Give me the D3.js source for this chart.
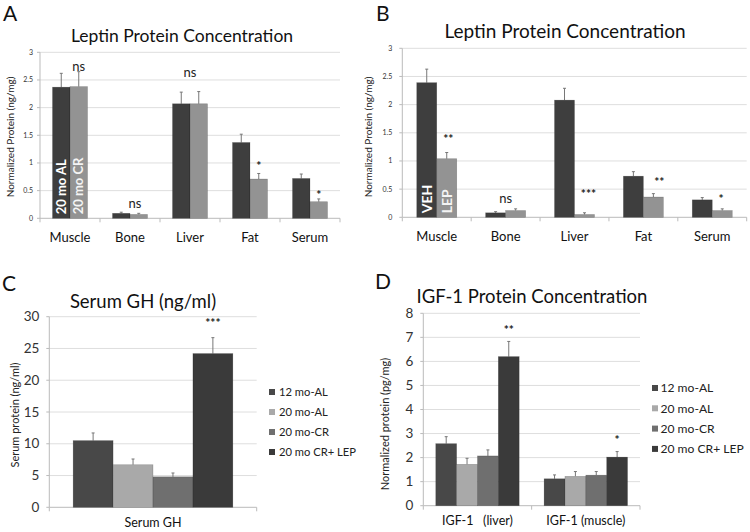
<!DOCTYPE html>
<html><head><meta charset="utf-8">
<script src="https://cdn.jsdelivr.net/npm/d3@7"></script>
<style>body{margin:0;background:#fff}svg{display:block}text{font-family:Lato,"Open Sans",sans-serif;white-space:pre}</style>
</head><body>
<svg id="c" width="750" height="532"></svg>
<script>
// ---------- DATA ----------
const tissues = ["Muscle","Bone","Liver","Fat","Serum"];
const aSeries = ["20 mo AL","20 mo CR"];
const aAL = [2.37,0.09,2.07,1.37,0.72];
const aALerr = [0.25,0.02,0.21,0.15,0.08];
const aCR = [2.38,0.07,2.07,0.71,0.30];
const aCRerr = [0.27,0.02,0.22,0.10,0.05];
const aSig = ["ns","ns","ns","*","*"];
const aSigY = [2.74,0.27,2.63,0.95,0.42];
const aSigPos = [0.75,0.64,0.5,0.75,0.75];   // position across the bar pair (0..1)

const bSeries = ["VEH","LEP"];
const bVEH = [2.39,0.08,2.08,0.73,0.31];
const bVEHerr = [0.24,0.02,0.21,0.08,0.04];
const bLEP = [1.04,0.12,0.05,0.36,0.12];
const bLEPerr = [0.11,0.03,0.03,0.06,0.03];
const bSig = ["**","ns","***","**","*"];
const bSigY = [1.39,0.33,0.41,0.63,0.33];
const bSigPos = [0.79,0.5,0.85,0.9,0.72];

const leptinTicks = [0,0.5,1,1.5,2,2.5,3];

const groups4 = ["12 mo-AL","20 mo-AL","20 mo-CR","20 mo CR+ LEP"];
const cCats = ["Serum GH"];
const cVals = [[10.5,6.7,4.8,24.2]];
const cErr = [[1.2,0.9,0.6,2.5]];
const cSig = [["","","","***"]];
const cSigY = [29.0];
const cTicks = [0,5,10,15,20,25,30];

const dCats = ["IGF-1   (liver)","IGF-1 (muscle)"];
const dVals = [[2.58,1.72,2.07,6.2],[1.12,1.22,1.27,2.02]];
const dErr = [[0.29,0.25,0.25,0.63],[0.16,0.20,0.15,0.23]];
const dSig = [["","","","**"],["","","","*"]];
const dSigY = [7.3,2.73];
const dTicks = [0,1,2,3,4,5,6,7,8];

const colors2 = ["#3e3e3e","#939393"];
const colors4 = ["#484848","#a9a9a9","#6f6f6f","#3a3a3a"];

// ---------- DRAW ----------
const svg = d3.select("#c");
const grid = "#dedede";

function panelLetter(t,x,y){
  svg.append("text").attr("x",x).attr("y",y).attr("font-size",21).attr("font-family","Liberation Sans, Arial, sans-serif").attr("fill","#111").text(t);
}
function title(t,x,y,fs){
  svg.append("text").attr("x",x).attr("y",y).attr("text-anchor","middle").attr("font-size",fs).attr("fill","#111").text(t);
}
function yLabel(t,x,y,fs){
  svg.append("text").attr("transform",`translate(${x},${y}) rotate(-90)`).attr("text-anchor","middle").attr("dy","0.35em").attr("font-size",fs).attr("fill","#222").text(t);
}

function drawAxes(g,x,y,ticks,tickFs,x0,x1,cats,catFs,catY,tickGap){
  g.selectAll(".gl").data(ticks.slice(1)).join("line")
    .attr("x1",x0).attr("x2",x1).attr("y1",d=>y(d)).attr("y2",d=>y(d)).attr("stroke",grid).attr("stroke-width",1);
  g.append("line").attr("x1",x0).attr("x2",x0).attr("y1",y(0)).attr("y2",y(ticks[ticks.length-1])).attr("stroke","#bbb");
  g.selectAll(".yt").data(ticks).join("line").attr("x1",x0-3).attr("x2",x0).attr("y1",d=>y(d)).attr("y2",d=>y(d)).attr("stroke","#bbb");
  g.selectAll(".ytl").data(ticks).join("text").attr("x",x0-tickGap).attr("y",d=>y(d)).attr("dy","0.35em")
    .attr("text-anchor","end").attr("font-size",tickFs).attr("fill","#333").text(d=>d);
  g.append("line").attr("x1",x0).attr("x2",x1).attr("y1",y(0)).attr("y2",y(0)).attr("stroke","#bbb");
  const bounds = cats.map(c=>x(c)).concat([x(cats[cats.length-1])+x.bandwidth()]);
  g.selectAll(".xt").data(bounds).join("line").attr("x1",d=>d).attr("x2",d=>d).attr("y1",y(0)).attr("y2",y(0)+4).attr("stroke","#bbb");
  g.selectAll(".xl").data(cats).join("text").attr("x",d=>x(d)+x.bandwidth()/2).attr("y",catY)
    .attr("text-anchor","middle").attr("font-size",catFs).attr("fill","#111").text(d=>d);
}

function bars(g,data,y,capW){
  g.selectAll(".eb").data(data).join("line").attr("x1",d=>d.x+d.w/2).attr("x2",d=>d.x+d.w/2)
    .attr("y1",d=>y(d.v)).attr("y2",d=>y(d.v+d.e)).attr("stroke","#777").attr("stroke-width",1);
  g.selectAll(".ec").data(data).join("line").attr("x1",d=>d.x+d.w/2-capW).attr("x2",d=>d.x+d.w/2+capW)
    .attr("y1",d=>y(d.v+d.e)).attr("y2",d=>y(d.v+d.e)).attr("stroke","#777").attr("stroke-width",1);
  g.selectAll(".bar").data(data).join("rect").attr("x",d=>d.x).attr("width",d=>d.w)
    .attr("y",d=>y(d.v)).attr("height",d=>y(0)-y(d.v)).attr("fill",d=>d.c).attr("stroke","rgba(0,0,0,0.25)").attr("stroke-width",0.6);
}

// ----- Panel A & B -----
function leptinPanel(o){
  const g = svg.append("g");
  const x = d3.scaleBand().domain(tissues).range([o.x0,o.x1]).padding(0);
  const y = d3.scaleLinear().domain([0,3]).range([o.yb,o.yt]);
  drawAxes(g,x,y,leptinTicks,7,o.x0,o.x1,tissues,13,o.catY,o.tickGap);
  const sub = d3.scaleBand().domain(o.series).range([0,o.pairW]);
  const data=[];
  tissues.forEach((t,i)=>{
    const off = x(t)+(x.bandwidth()-o.pairW)/2;
    data.push({x:off+sub(o.series[0]),w:sub.bandwidth(),v:o.v1[i],e:o.e1[i],c:colors2[0]});
    data.push({x:off+sub(o.series[1]),w:sub.bandwidth(),v:o.v2[i],e:o.e2[i],c:colors2[1]});
  });
  bars(g,data,y,1.5);
  o.series.forEach((s,k)=>{
    const cx = x(tissues[0])+(x.bandwidth()-o.pairW)/2+sub(s)+sub.bandwidth()/2;
    g.append("text").attr("transform",`translate(${cx},${y(0)-4}) rotate(-90)`).attr("dy","0.36em")
      .attr("font-size",o.inFs).attr("font-weight","bold").attr("font-family","Liberation Sans, Arial, sans-serif")
      .attr("fill",k===0?"#fff":"#f4f4f4").text(s);
  });
  tissues.forEach((t,i)=>{
    const cx = x(t)+(x.bandwidth()-o.pairW)/2+o.pairW*o.sigPos[i];
    const isNs = o.sig[i]==="ns";
    g.append("text").attr("x",cx).attr("y",y(o.sigY[i])).attr("dy","0.35em").attr("text-anchor","middle")
      .attr("font-size",isNs?13:12).attr("font-weight",isNs?"normal":"bold").attr("fill","#222").text(o.sig[i]);
  });
}
leptinPanel({x0:40,x1:340,yb:218.3,yt:52.3,pairW:35,series:aSeries,v1:aAL,e1:aALerr,v2:aCR,e2:aCRerr,
  sig:aSig,sigY:aSigY,sigPos:aSigPos,catY:242,inFs:13,tickGap:7});
leptinPanel({x0:402.3,x1:746.7,yb:217.3,yt:48.3,pairW:40,series:bSeries,v1:bVEH,e1:bVEHerr,v2:bLEP,e2:bLEPerr,
  sig:bSig,sigY:bSigY,sigPos:bSigPos,catY:241,inFs:14,tickGap:10});

panelLetter("A",3,21); panelLetter("B",376,21);
title("Leptin Protein Concentration",182,41.5,17.5);
title("Leptin Protein Concentration",565,37.5,19);
yLabel("Normalized Protein (ng/mg)",10,137,10);
yLabel("Normalized Protein (ng/mg)",368,137,10);

// ----- Panel C & D -----
function fourPanel(o){
  const g = svg.append("g");
  const x = d3.scaleBand().domain(o.cats).range([o.x0,o.x1]).padding(0);
  const y = d3.scaleLinear().domain([0,o.ticks[o.ticks.length-1]]).range([o.yb,o.yt]);
  drawAxes(g,x,y,o.ticks,13.5,o.x0,o.x1,o.cats,o.catFs,o.catY,10);
  const gw = x.bandwidth()*0.77;
  const sub = d3.scaleBand().domain(groups4).range([0,gw]);
  const data=[];
  o.cats.forEach((c,i)=>{
    const off = x(c)+(x.bandwidth()-gw)/2;
    groups4.forEach((s,k)=>data.push({x:off+sub(s),w:sub.bandwidth(),v:o.vals[i][k],e:o.err[i][k],c:colors4[k]}));
  });
  bars(g,data,y,1.5);
  o.cats.forEach((c,i)=>{
    const off = x(c)+(x.bandwidth()-gw)/2;
    groups4.forEach((s,k)=>{
      if(!o.sig[i][k]) return;
      g.append("text").attr("x",off+sub(s)+sub.bandwidth()/2).attr("y",y(o.sigY[i])).attr("dy","0.35em")
        .attr("text-anchor","middle").attr("font-size",12).attr("font-weight","bold").attr("fill","#222").text(o.sig[i][k]);
    });
  });
  const lg = svg.append("g");
  groups4.forEach((s,k)=>{
    const ly = o.legY + k*o.legDy;
    lg.append("rect").attr("x",o.legX).attr("y",ly-3).attr("width",6).attr("height",6).attr("fill",colors4[k]);
    lg.append("text").attr("x",o.legX+o.legGap).attr("y",ly).attr("dy","0.35em").attr("font-size",o.legFs).attr("fill","#222").text(s);
  });
}
fourPanel({cats:cCats,vals:cVals,err:cErr,sig:cSig,sigY:cSigY,ticks:cTicks,x0:49.3,x1:256.7,yb:507.3,yt:316.7,
  catFs:12.5,catY:527,legX:269,legGap:10,legFs:11.2,legY:392,legDy:20});
fourPanel({cats:dCats,vals:dVals,err:dErr,sig:dSig,sigY:dSigY,ticks:dTicks,x0:423.3,x1:640,yb:505.7,yt:313.3,
  catFs:12.5,catY:525,legX:652,legGap:8.5,legFs:12.1,legY:388,legDy:20.3});

panelLetter("C",2,291); panelLetter("D",375,289);
title("Serum GH (ng/ml)",143,308,18.5);
title("IGF-1 Protein Concentration",532,303,18.5);
yLabel("Serum protein (ng/ml)",15,415,11);
yLabel("Normalized protein (pg/mg)",385,424,11);
</script>
</body></html>
